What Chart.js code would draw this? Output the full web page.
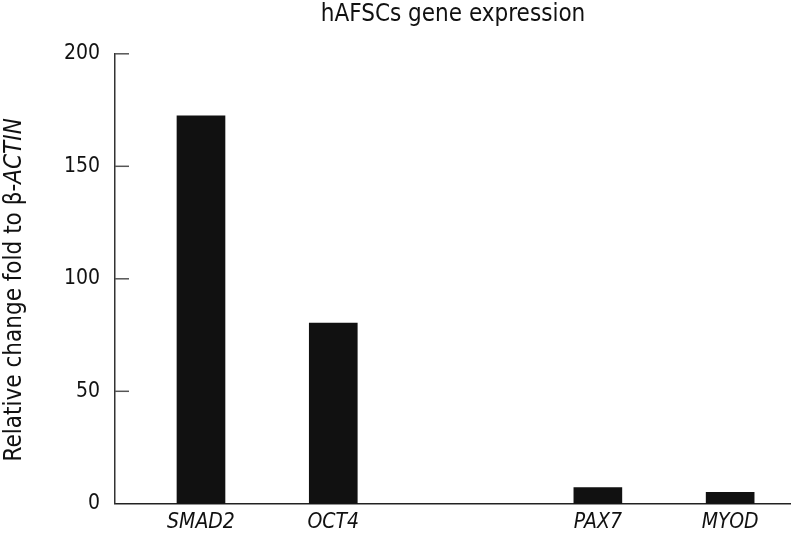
<!DOCTYPE html>
<html>
<head>
<meta charset="utf-8">
<script src="https://cdn.jsdelivr.net/npm/chart.js@4/dist/chart.umd.min.js"></script>
<style>
  html, body { margin: 0; padding: 0; background: #fff; }
  #wrap { width: 791px; height: 546px; position: relative; }
</style>
</head>
<body>
<div id="wrap"><canvas id="c" width="791" height="546"></canvas></div>
<script>
const chartTitle = 'hAFSCs gene expression';
const categories = ['SMAD2', 'OCT4', '', 'PAX7', 'MYOD'];
const values = [172.4, 80.3, null, 7.2, 5.1];
const yTicks = [0, 50, 100, 150, 200];
const yTitleParts = [['Relative change fold to β-', 'normal'], ['ACTIN', 'italic']];

const FONT = "'DejaVu Sans Condensed', 'Liberation Sans', sans-serif";

const yTitlePlugin = {
  id: 'yTitle',
  afterDraw(chart) {
    const ctx = chart.ctx;
    const area = chart.chartArea;
    ctx.save();
    ctx.fillStyle = '#111';
    ctx.textBaseline = 'middle';
    const size = 24;
    let total = 0;
    const widths = yTitleParts.map(([t, s]) => {
      ctx.font = s + ' ' + size + 'px ' + FONT;
      const w = ctx.measureText(t).width;
      total += w;
      return w;
    });
    ctx.translate(15, (area.top + area.bottom) / 2 + 11);
    ctx.rotate(-Math.PI / 2);
    let x = -total / 2;
    yTitleParts.forEach(([t, s], i) => {
      ctx.font = s + ' ' + size + 'px ' + FONT;
      ctx.textAlign = 'left';
      ctx.fillText(t, x, 0);
      x += widths[i];
    });
    ctx.restore();
  }
};

const innerTicksPlugin = {
  id: 'innerTicks',
  afterDraw(chart) {
    const ctx = chart.ctx;
    const y = chart.scales.y;
    const left = chart.chartArea.left;
    ctx.save();
    ctx.strokeStyle = '#555';
    ctx.lineWidth = 1.5;
    y.ticks.forEach(t => {
      if (t.value === 0) return;
      const py = y.getPixelForValue(t.value);
      ctx.beginPath();
      ctx.moveTo(left, py);
      ctx.lineTo(left + 14, py);
      ctx.stroke();
    });
    ctx.restore();
  }
};

new Chart(document.getElementById('c'), {
  type: 'bar',
  data: {
    datasets: [{
      data: categories.map((c, i) => ({ x: i, y: values[i] })),
      backgroundColor: '#111111',
      borderWidth: 0,
      barThickness: 48
    }]
  },
  options: {
    responsive: false,
    animation: false,
    layout: { padding: { left: 0, right: 0, top: 0, bottom: 5 } },
    plugins: {
      legend: { display: false },
      tooltip: { enabled: false },
      title: {
        display: true,
        text: chartTitle,
        fullSize: false,
        color: '#111',
        font: { family: FONT, size: 24, weight: 'normal' },
        padding: { top: 0, bottom: 25 }
      }
    },
    scales: {
      x: {
        type: 'linear',
        offset: false,
        min: -0.65,
        max: 4.46,
        afterBuildTicks: s => { s.ticks = categories.map((c, i) => ({ value: i })); },
        grid: { display: false, drawTicks: false, offset: false },
        border: { display: true, color: '#222', width: 1.5 },
        ticks: {
          autoSkip: false,
          maxRotation: 0,
          padding: 6,
          color: '#111',
          font: { family: FONT, size: 21, style: 'italic' },
          callback: v => categories[v] || ''
        }
      },
      y: {
        min: 0,
        max: 200,
        afterBuildTicks: s => { s.ticks = yTicks.map(v => ({ value: v })); },
        afterFit: s => { s.width = 115; },
        grid: { display: false, drawTicks: false },
        border: { display: true, color: '#333', width: 1.5 },
        ticks: {
          padding: 15,
          color: '#111',
          font: { family: FONT, size: 21 }
        }
      }
    }
  },
  plugins: [yTitlePlugin, innerTicksPlugin]
});
</script>
</body>
</html>
